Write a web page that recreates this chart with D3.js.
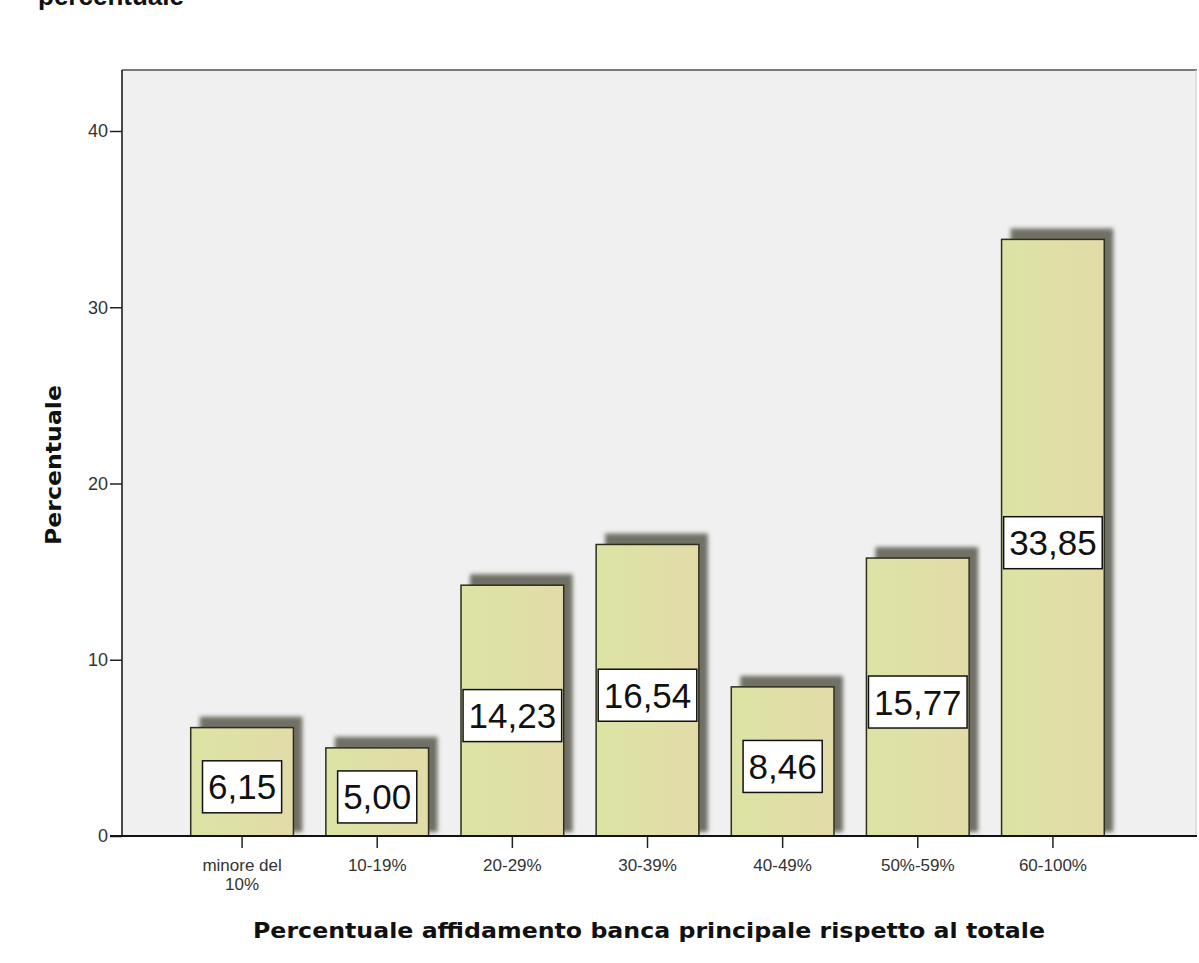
<!DOCTYPE html>
<html><head><meta charset="utf-8">
<script src="https://cdn.jsdelivr.net/npm/d3@7/dist/d3.min.js"></script>
<style>body{margin:0;background:#fff;}svg{display:block;}</style>
</head><body>
<script>
const categories = ["minore del 10%", "10-19%", "20-29%", "30-39%", "40-49%", "50%-59%", "60-100%"];
const categoryLines = [["minore del", "10%"], ["10-19%"], ["20-29%"], ["30-39%"], ["40-49%"], ["50%-59%"], ["60-100%"]];
const values = [6.15, 5.00, 14.23, 16.54, 8.46, 15.77, 33.85];
const valueLabels = ["6,15", "5,00", "14,23", "16,54", "8,46", "15,77", "33,85"];
const yTicks = [0, 10, 20, 30, 40];
const yTitle = "Percentuale";
const xTitle = "Percentuale affidamento banca principale rispetto al totale";
const topTitle = "percentuale";

(function () {
const W = 1199, H = 963;
const svg = d3.select("body").append("svg").attr("width", W).attr("height", H);
const defs = svg.append("defs");
const grad = defs.append("linearGradient").attr("id", "barg").attr("x1", "0").attr("x2", "1");
grad.append("stop").attr("offset", "0").attr("stop-color", "#dce3a4");
grad.append("stop").attr("offset", "0.5").attr("stop-color", "#dfe0a6");
grad.append("stop").attr("offset", "1").attr("stop-color", "#e2dba8");
const blur = defs.append("filter").attr("id", "blur").attr("x", "-20%").attr("y", "-20%").attr("width", "140%").attr("height", "140%");
blur.append("feGaussianBlur").attr("stdDeviation", 2.2);

const pL = 122, pR = 1197, pT = 70, pB = 836;
svg.append("rect").attr("x", pL).attr("y", pT).attr("width", pR - pL).attr("height", pB - pT).attr("fill", "#f0f0f0");

const y = d3.scaleLinear().domain([0, 40]).range([pB, 131]);
const x = d3.scaleBand().domain(categories).range([174.5, 1120.5]).paddingInner(0.24).paddingOuter(0.12);

svg.append("line").attr("x1", pL).attr("x2", pR).attr("y1", pT).attr("y2", pT).attr("stroke", "#7a7a7a").attr("stroke-width", 2);
svg.append("line").attr("x1", pR - 1).attr("x2", pR - 1).attr("y1", pT).attr("y2", pB).attr("stroke", "#cfcfcf").attr("stroke-width", 1);

svg.append("g").selectAll("rect").data(values).join("rect")
  .attr("x", (d, i) => x(categories[i]) + 9)
  .attr("y", d => y(d) - 11)
  .attr("width", x.bandwidth())
  .attr("height", d => pB - y(d) + 11 - 4)
  .attr("fill", "#6f6f66")
  .attr("filter", "url(#blur)");

svg.append("g").selectAll("rect").data(values).join("rect")
  .attr("x", (d, i) => x(categories[i]))
  .attr("y", d => y(d))
  .attr("width", x.bandwidth())
  .attr("height", d => pB - y(d))
  .attr("fill", "url(#barg)")
  .attr("stroke", "#2e2e1c")
  .attr("stroke-width", 1.5);

const lg = svg.append("g").selectAll("g").data(values).join("g");
lg.each(function (d, i) {
  const g = d3.select(this);
  const cx = x(categories[i]) + x.bandwidth() / 2;
  const cy = (y(d) + pB) / 2 + 5;
  const t = g.append("text").attr("x", cx).attr("y", cy).attr("text-anchor", "middle").attr("dominant-baseline", "central")
    .attr("font-family", "Liberation Sans, Arial, sans-serif").attr("font-size", 35).attr("fill", "#111").text(valueLabels[i]);
  const bb = t.node().getBBox();
  const bw = bb.width + 11, bh = 52;
  g.insert("rect", "text").attr("x", cx - bw / 2).attr("y", cy - bh / 2).attr("width", bw).attr("height", bh)
    .attr("fill", "#fff").attr("stroke", "#111").attr("stroke-width", 1.5);
});

const yAxis = d3.axisLeft(y).tickValues(yTicks).tickSize(12).tickPadding(2);
const yg = svg.append("g").attr("transform", `translate(${pL},0)`).call(yAxis);
yg.select(".domain").attr("stroke", "#111").attr("stroke-width", 1.5).attr("d", `M-12,${pB}H0V${pT}`);
yg.selectAll(".tick line").attr("stroke", "#222").attr("stroke-width", 1.5);
yg.selectAll(".tick text").attr("font-family", "Liberation Sans, Arial, sans-serif").attr("font-size", 18).attr("fill", "#333");

const xAxis = d3.axisBottom(x).tickSize(12).tickFormat("");
const xg = svg.append("g").attr("transform", `translate(0,${pB})`).call(xAxis);
xg.select(".domain").attr("stroke", "#111").attr("stroke-width", 2).attr("d", `M110,0H${pR}`);
xg.selectAll(".tick line").attr("stroke", "#222").attr("stroke-width", 1.5);
xg.selectAll(".tick").each(function (d, i) {
  const t = d3.select(this).append("text").attr("text-anchor", "middle").attr("fill", "#333")
    .attr("font-family", "Liberation Sans, Arial, sans-serif").attr("font-size", 17)
    .attr("textLength", null);
  categoryLines[i].forEach((line, k) => {
    t.append("tspan").attr("x", 0).attr("y", 35 + k * 19).text(line);
  });
});

svg.append("text").attr("x", 649).attr("y", 938).attr("text-anchor", "middle")
  .attr("font-family", "DejaVu Sans, Verdana, sans-serif").attr("font-weight", "bold").attr("font-size", 22)
  .attr("textLength", 792).attr("lengthAdjust", "spacingAndGlyphs").attr("fill", "#111").text(xTitle);
svg.append("text").attr("transform", "translate(61,465) rotate(-90)").attr("text-anchor", "middle")
  .attr("font-family", "DejaVu Sans, Verdana, sans-serif").attr("font-weight", "bold").attr("font-size", 22)
  .attr("textLength", 160).attr("lengthAdjust", "spacingAndGlyphs").attr("fill", "#111").text(yTitle);
svg.append("text").attr("x", 38).attr("y", 5)
  .attr("font-family", "Liberation Sans, Arial, sans-serif").attr("font-weight", "bold").attr("font-size", 26)
  .attr("fill", "#111").text(topTitle);
})();
</script>
</body></html>
